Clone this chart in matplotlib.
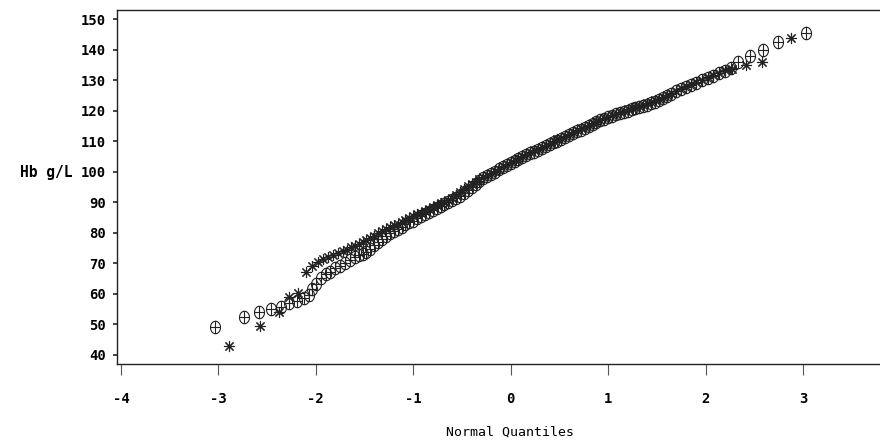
import numpy as np
import matplotlib
matplotlib.use('Agg')
import matplotlib.pyplot as plt
from matplotlib.path import Path

# normal quantiles and Hb values, first group (circle-plus symbols)
q_circ = [-3.03, -2.74, -2.58, -2.46, -2.36, -2.27, -2.19, -2.12, -2.07, -2.04,
          -2.00, -1.95, -1.90, -1.85, -1.80, -1.75, -1.70, -1.65, -1.60, -1.56,
          -1.52, -1.48, -1.44, -1.40, -1.36, -1.32, -1.28, -1.24, -1.20, -1.16,
          -1.12, -1.08, -1.04, -1.00, -0.96, -0.92, -0.88, -0.84, -0.80, -0.76,
          -0.72, -0.68, -0.64, -0.60, -0.56, -0.52, -0.48, -0.44, -0.40, -0.36,
          -0.32, -0.28, -0.24, -0.20, -0.16, -0.12, -0.08, -0.04, 0.00, 0.04,
          0.08, 0.12, 0.16, 0.20, 0.24, 0.28, 0.32, 0.36, 0.40, 0.44,
          0.48, 0.52, 0.56, 0.60, 0.64, 0.68, 0.72, 0.76, 0.80, 0.84,
          0.88, 0.92, 0.96, 1.00, 1.04, 1.08, 1.12, 1.16, 1.20, 1.24,
          1.28, 1.32, 1.36, 1.40, 1.44, 1.48, 1.52, 1.56, 1.60, 1.65,
          1.70, 1.75, 1.80, 1.85, 1.90, 1.96, 2.02, 2.08, 2.14, 2.20,
          2.26, 2.33, 2.46, 2.59, 2.74, 3.03]
hb_circ = [49.2, 52.4, 54.0, 55.0, 55.8, 57.0, 57.8, 58.5, 59.6, 61.5,
           63.3, 65.3, 66.5, 67.3, 68.3, 69.2, 70.0, 71.0, 72.0, 72.6,
           73.2, 73.8, 74.8, 76.0, 77.0, 78.0, 79.0, 79.8, 80.5, 81.3,
           82.0, 82.8, 83.4, 84.0, 84.7, 85.4, 86.0, 86.8, 87.5, 88.2,
           88.8, 89.5, 90.2, 90.8, 91.5, 92.2, 93.0, 94.0, 95.0, 96.0,
           97.0, 97.8, 98.5, 99.2, 100.0, 100.8, 101.5, 102.2, 102.8, 103.5,
           104.2, 104.8, 105.5, 106.0, 106.6, 107.2, 107.8, 108.4, 109.0, 109.6,
           110.2, 110.8, 111.4, 112.0, 112.6, 113.2, 113.8, 114.4, 115.0, 115.6,
           116.2, 116.8, 117.3, 117.8, 118.3, 118.8, 119.2, 119.6, 120.0, 120.4,
           120.8, 121.2, 121.6, 122.0, 122.5, 123.0, 123.6, 124.2, 124.8, 125.5,
           126.3, 127.0, 127.8, 128.5, 129.2, 130.0, 130.8, 131.5, 132.3, 133.0,
           134.0, 136.0, 138.0, 140.0, 142.4, 145.6]

# second group (asterisks)
q_star = [-2.89, -2.57, -2.38, -2.27, -2.18, -2.10, -2.04, -1.98, -1.93, -1.87,
          -1.82, -1.77, -1.72, -1.68, -1.64, -1.60, -1.56, -1.52, -1.48, -1.44,
          -1.40, -1.36, -1.32, -1.28, -1.24, -1.20, -1.16, -1.12, -1.08, -1.04,
          -1.00, -0.96, -0.92, -0.88, -0.84, -0.80, -0.76, -0.72, -0.68, -0.64,
          -0.60, -0.56, -0.52, -0.48, -0.44, -0.40, -0.36, -0.32, -0.28, -0.24,
          -0.20, -0.16, -0.12, -0.08, -0.04, 0.00, 0.04, 0.08, 0.12, 0.16,
          0.20, 0.24, 0.28, 0.32, 0.36, 0.40, 0.44, 0.48, 0.52, 0.56,
          0.60, 0.64, 0.68, 0.72, 0.76, 0.80, 0.84, 0.88, 0.92, 0.96,
          1.00, 1.04, 1.08, 1.12, 1.16, 1.20, 1.24, 1.28, 1.32, 1.36,
          1.40, 1.44, 1.48, 1.52, 1.56, 1.60, 1.65, 1.70, 1.75, 1.80,
          1.85, 1.90, 1.96, 2.02, 2.08, 2.14, 2.20, 2.27, 2.41, 2.58,
          2.88]
hb_star = [43.0, 49.5, 54.0, 59.0, 60.3, 67.0, 69.0, 70.3, 71.3, 72.0,
           72.8, 73.4, 74.0, 74.5, 75.2, 75.8, 76.4, 77.0, 77.6, 78.2,
           79.0, 79.8, 80.5, 81.2, 81.8, 82.4, 83.0, 83.6, 84.2, 84.8,
           85.4, 86.0, 86.6, 87.2, 87.8, 88.4, 89.0, 89.6, 90.2, 90.8,
           91.5, 92.3, 93.2, 94.2, 95.2, 96.0, 96.8, 97.5, 98.2, 98.8,
           99.5, 100.2, 101.0, 101.8, 102.5, 103.2, 103.8, 104.5, 105.2, 105.8,
           106.4, 107.0, 107.6, 108.2, 108.8, 109.4, 110.0, 110.6, 111.2, 111.8,
           112.4, 113.0, 113.6, 114.2, 114.8, 115.4, 116.0, 116.5, 117.0, 117.5,
           118.0, 118.5, 119.0, 119.5, 120.0, 120.4, 120.8, 121.2, 121.6, 122.0,
           122.5, 123.0, 123.5, 124.0, 124.5, 125.0, 125.8, 126.5, 127.3, 128.0,
           128.8, 129.5, 130.2, 131.0, 131.8, 132.5, 133.2, 133.8, 135.0, 136.0,
           143.8]

xticks = [-4, -3, -2, -1, 0, 1, 2, 3]
yticks = list(range(40, 151, 10))

# SAS-like circle with a cross inside (slightly tall ellipse)
t = np.linspace(0, 2 * np.pi, 40)
ell = Path(np.column_stack([0.4 * np.cos(t), 0.5 * np.sin(t)]), closed=True)
vline = Path([[0, -0.5], [0, 0.5]], [Path.MOVETO, Path.LINETO])
hline = Path([[-0.4, 0], [0.4, 0]], [Path.MOVETO, Path.LINETO])
circ_plus = Path.make_compound_path(ell, vline, hline)

mono = 'DejaVu Sans Mono'

fig = plt.figure(figsize=(8.8, 4.43), dpi=100)
ax = fig.add_axes([117 / 880, 1 - 364 / 443, 1 - 117 / 880, 354 / 443])

ax.plot(q_circ, hb_circ, linestyle='none', marker=circ_plus, markersize=9,
        markerfacecolor='none', markeredgecolor='#222222', markeredgewidth=0.8)
ax.plot(q_star, hb_star, linestyle='none', marker=(8, 2, 0), markersize=8,
        color='#222222', markeredgewidth=0.8)

ax.set_xlim(-4.04, 3.79)
ax.set_ylim(37.0, 153.0)
ax.set_xticks(xticks)
ax.set_yticks(yticks)
ax.set_xticklabels([str(v) for v in xticks], fontfamily=mono, fontweight='bold', fontsize=10)
ax.set_yticklabels([str(v) for v in yticks], fontfamily=mono, fontweight='bold', fontsize=10)

ax.spines['right'].set_visible(False)
for s in ['left', 'top', 'bottom']:
    ax.spines[s].set_color('#222222')
    ax.spines[s].set_linewidth(1.0)
ax.tick_params(axis='x', direction='out', length=8, width=0.8, color='#555555', pad=12)
ax.tick_params(axis='y', direction='out', length=3, width=1.2, color='#222222', pad=5)

fig.text(72 / 880, 1 - 172 / 443, 'Hb g/L', ha='right', va='center',
         fontfamily=mono, fontweight='bold', fontsize=10.5)
fig.text(510 / 880, 1 - 432 / 443, 'Normal Quantiles', ha='center', va='center',
         fontfamily=mono, fontsize=9.5)

fig.savefig('out.png', dpi=100)
